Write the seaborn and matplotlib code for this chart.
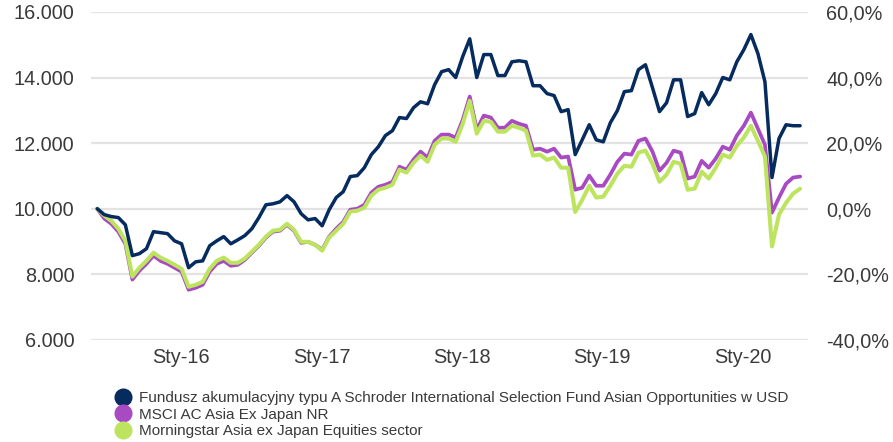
import pandas as pd
import matplotlib
matplotlib.use('Agg')
import matplotlib.pyplot as plt
import matplotlib.dates as mdates
from matplotlib.ticker import FuncFormatter
from matplotlib.lines import Line2D
import seaborn as sns

# -----------------------------------------------
# Data: value of 10 000 invested, 2015-05 .. 2020-05
# -----------------------------------------------
dates = pd.date_range('2015-05-29', '2020-05-29', periods=101)

fund = [10000, 9820, 9760, 9730, 9510, 8570, 8630, 8780, 9300, 9270,
        9240, 9020, 8930, 8200, 8380, 8410, 8870, 9020, 9150, 8930,
        9050, 9180, 9390, 9730, 10120, 10150, 10210, 10400, 10210, 9850,
        9660, 9700, 9480, 9970, 10340, 10520, 10980, 11010, 11250, 11650,
        11890, 12230, 12380, 12780, 12750, 13080, 13260, 13200, 13780, 14180,
        14240, 14000, 14640, 15180, 14000, 14700, 14700, 14060, 14060, 14480,
        14510, 14480, 13750, 13750, 13510, 13450, 12960, 13020, 11650, 12100,
        12560, 12100, 12040, 12620, 12990, 13570, 13600, 14240, 14390, 13690,
        12960, 13230, 13930, 13930, 12810, 12900, 13540, 13170, 13510, 14000,
        13930, 14480, 14850, 15310, 14730, 13870, 10950, 12140, 12560, 12530,
        12530]

msci = [10000, 9700, 9540, 9300, 8930, 7840, 8110, 8320, 8570, 8410,
        8320, 8200, 8080, 7530, 7590, 7680, 8080, 8320, 8410, 8260,
        8290, 8440, 8660, 8870, 9120, 9300, 9330, 9510, 9330, 8960,
        8990, 8900, 8750, 9150, 9390, 9600, 9970, 10000, 10120, 10490,
        10670, 10730, 10820, 11280, 11190, 11500, 11740, 11560, 12070, 12260,
        12260, 12170, 12710, 13420, 12410, 12840, 12780, 12470, 12470, 12680,
        12590, 12530, 11800, 11830, 11740, 11830, 11560, 11590, 10580, 10640,
        11010, 10700, 10700, 11040, 11430, 11680, 11650, 12070, 12140, 11740,
        11160, 11400, 11770, 11710, 10920, 10980, 11460, 11250, 11530, 11890,
        11800, 12230, 12530, 12930, 12440, 11950, 9880, 10340, 10760, 10950,
        10980]

sector = [10000, 9790, 9630, 9390, 9020, 7930, 8200, 8410, 8660, 8510,
          8410, 8290, 8170, 7620, 7680, 7770, 8170, 8410, 8510, 8350,
          8350, 8480, 8690, 8900, 9150, 9330, 9360, 9540, 9360, 8990,
          8990, 8900, 8720, 9120, 9330, 9540, 9910, 9940, 10030, 10400,
          10580, 10640, 10730, 11190, 11100, 11400, 11620, 11430, 11950, 12140,
          12140, 12040, 12590, 13290, 12290, 12680, 12650, 12350, 12350, 12530,
          12470, 12380, 11620, 11650, 11490, 11560, 11250, 11250, 9900, 10270,
          10700, 10340, 10370, 10700, 11070, 11310, 11280, 11710, 11770, 11370,
          10820, 11040, 11430, 11370, 10580, 10610, 11130, 10920, 11250, 11650,
          11560, 11920, 12170, 12530, 12070, 11590, 8850, 9820, 10180, 10460,
          10610]

labels = ['Fundusz akumulacyjny typu A Schroder International Selection Fund Asian Opportunities w USD',
          'MSCI AC Asia Ex Japan NR',
          'Morningstar Asia ex Japan Equities sector']
colors = ['#062b5e', '#a84bc2', '#bde45e']

# -----------------------------------------------
# Chart
# -----------------------------------------------
sns.set_style('white')
plt.rcParams['font.family'] = ['Liberation Sans', 'DejaVu Sans']

fig = plt.figure(figsize=(8.93, 4.42), dpi=100)
ax = fig.add_axes([0.102, 0.231, 0.803, 0.742])

ax.grid(axis='y', color='#e3e3e3', linewidth=1.6, zorder=0)
sns.lineplot(x=dates, y=msci, ax=ax, color=colors[1], linewidth=2.7, zorder=3)
sns.lineplot(x=dates, y=sector, ax=ax, color=colors[2], linewidth=2.9, zorder=4)
sns.lineplot(x=dates, y=fund, ax=ax, color=colors[0], linewidth=2.5, zorder=5)

ax.set_ylim(6000, 16000)
ax.set_yticks([6000, 8000, 10000, 12000, 14000, 16000])
ax.yaxis.set_major_formatter(FuncFormatter(lambda v, p: f"{v:,.0f}".replace(',', '.')))
ax.set_xlim(pd.Timestamp('2015-05-13'), pd.Timestamp('2020-06-19'))
ax.xaxis.set_major_locator(mdates.YearLocator(month=1, day=1))
ax.xaxis.set_major_formatter(FuncFormatter(
    lambda v, p: 'Sty-' + mdates.num2date(v).strftime('%y')))
ax.set_xlabel('')
ax.set_ylabel('')
ax.tick_params(axis='both', length=0, labelsize=14.3, labelcolor='#3a3a3a')
ax.tick_params(axis='x', pad=6)
ax.tick_params(axis='y', pad=12)
for s in ax.spines.values():
    s.set_visible(False)

ax2 = ax.twinx()
ax2.set_ylim(-40, 60)
ax2.set_yticks([-40, -20, 0, 20, 40, 60])
ax2.yaxis.set_major_formatter(FuncFormatter(lambda v, p: f"{v:.1f}%".replace('.', ',')))
ax2.tick_params(axis='y', length=0, labelsize=14.3, labelcolor='#3a3a3a', pad=13)
for s in ax2.spines.values():
    s.set_visible(False)

handles = [Line2D([], [], linestyle='none', marker='o', markersize=12,
                  color=c) for c in colors]
fig.legend(handles, labels, loc='upper left', bbox_to_anchor=(0.130, 0.1154),
           frameon=False, fontsize=11, labelspacing=0.18, handlelength=0.9,
           handletextpad=0.6, borderpad=0, borderaxespad=0,
           labelcolor='#3a3a3a')

fig.savefig('out.png', dpi=100)
